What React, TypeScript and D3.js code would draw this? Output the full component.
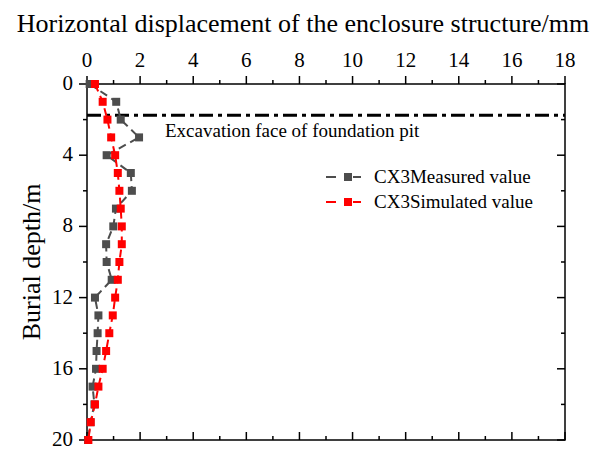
import React from "react";
import * as d3 from "d3";

// Burial depth of each inclinometer reading (m)
const depths: number[] = [0, 1, 2, 3, 4, 5, 6, 7, 8, 9, 10, 11, 12, 13, 14, 15, 16, 17, 18, 19, 20];
// CX3 horizontal displacement, field measurement (mm)
const measured: number[] = [0.1, 1.1, 1.27, 1.96, 0.74, 1.65, 1.69, 1.09, 0.99, 0.72, 0.74, 0.93, 0.3, 0.43, 0.4, 0.36, 0.34, 0.21, 0.28, 0.13, 0.04];
// CX3 horizontal displacement, numerical simulation (mm)
const simulated: number[] = [0.3, 0.59, 0.77, 0.91, 1.06, 1.16, 1.22, 1.27, 1.31, 1.31, 1.22, 1.16, 1.06, 0.97, 0.84, 0.72, 0.59, 0.43, 0.3, 0.14, 0.05];

const xTicks: number[] = [0, 2, 4, 6, 8, 10, 12, 14, 16, 18];
const yTicks: number[] = [0, 4, 8, 12, 16, 20];
const excavationDepth = 1.75;

const seriesNames: string[] = ["CX3Measured value", "CX3Simulated value"];
const seriesColors: string[] = ["#4d4d4d", "#ff0000"];

const W = 598;
const H = 449;
const FONT = "Liberation Serif";

const txt = (size: number): React.CSSProperties => ({ fontFamily: FONT, fontSize: `${size}px` });

export default function App() {
  const x = d3.scaleLinear().domain([0, 18]).range([87, 565]);
  const y = d3.scaleLinear().domain([0, 20]).range([84, 440]);

  const xMinor = d3.range(0, 19, 1).filter((v) => v % 2 !== 0);
  const yMinor = d3.range(0, 21, 2).filter((v) => v % 4 !== 0);

  const line = d3
    .line<[number, number]>()
    .x((d) => x(d[0]))
    .y((d) => y(d[1]));

  const series = [measured, simulated].map((vals, i) => ({
    name: seriesNames[i],
    color: seriesColors[i],
    pts: vals.map((v, j) => [v, depths[j]] as [number, number]),
  }));

  const [x0, x1] = x.range();
  const [y0, y1] = y.range();
  const ms = 8;

  return (
    <svg width={W} height={H} style={{ display: "block", position: "absolute", left: 0, top: 0 }}>
      <rect width={W} height={H} fill="#fff" />

      {/* axis titles */}
      <text x={303} y={32} style={txt(26)} textAnchor="middle">
        Horizontal displacement of the enclosure structure/mm
      </text>
      <text transform={`translate(40, ${(y0 + y1) / 2}) rotate(-90)`} style={txt(26)} textAnchor="middle">
        Burial depth/m
      </text>

      {/* top axis: outward ticks + labels; bottom axis: inward ticks */}
      {xTicks.map((t) => (
        <g key={`xt${t}`}>
          <line x1={x(t)} x2={x(t)} y1={y0} y2={y0 - 8} stroke="#000" strokeWidth={1.5} />
          <line x1={x(t)} x2={x(t)} y1={y1} y2={y1 - 8} stroke="#000" strokeWidth={1.5} />
          <text x={x(t)} y={y0 - 17} style={txt(21)} textAnchor="middle">
            {t}
          </text>
        </g>
      ))}
      {xMinor.map((t) => (
        <g key={`xm${t}`}>
          <line x1={x(t)} x2={x(t)} y1={y0} y2={y0 - 4} stroke="#000" strokeWidth={1.5} />
          <line x1={x(t)} x2={x(t)} y1={y1} y2={y1 - 4} stroke="#000" strokeWidth={1.5} />
        </g>
      ))}

      {/* left axis: outward ticks + labels; right axis: inward ticks */}
      {yTicks.map((t) => (
        <g key={`yt${t}`}>
          <line x1={x0} x2={x0 - 8} y1={y(t)} y2={y(t)} stroke="#000" strokeWidth={1.5} />
          <line x1={x1} x2={x1 - 8} y1={y(t)} y2={y(t)} stroke="#000" strokeWidth={1.5} />
          <text x={73} y={y(t) + 6} style={txt(21)} textAnchor="end">
            {t}
          </text>
        </g>
      ))}
      {yMinor.map((t) => (
        <g key={`ym${t}`}>
          <line x1={x0} x2={x0 - 4} y1={y(t)} y2={y(t)} stroke="#000" strokeWidth={1.5} />
          <line x1={x1} x2={x1 - 4} y1={y(t)} y2={y(t)} stroke="#000" strokeWidth={1.5} />
        </g>
      ))}

      {/* frame */}
      <rect x={x0} y={y0} width={x1 - x0} height={y1 - y0} fill="none" stroke="#000" strokeWidth={1.5} />

      {/* excavation face */}
      <line
        x1={x0}
        x2={x1}
        y1={y(excavationDepth)}
        y2={y(excavationDepth)}
        stroke="#000"
        strokeWidth={3}
        strokeDasharray="14 5 4 5"
      />
      <text x={165} y={137} style={txt(19)}>
        Excavation face of foundation pit
      </text>

      {/* data series */}
      {series.map((s) => (
        <g key={s.name}>
          <path d={line(s.pts) ?? ""} fill="none" stroke={s.color} strokeWidth={2} strokeDasharray="8 5" />
          {s.pts.map((p, j) => (
            <rect key={j} x={x(p[0]) - ms / 2} y={y(p[1]) - ms / 2} width={ms} height={ms} fill={s.color} />
          ))}
        </g>
      ))}

      {/* legend */}
      {series.map((s, i) => {
        const ly = 177 + i * 25;
        return (
          <g key={`lg${i}`}>
            <line x1={326} x2={336} y1={ly} y2={ly} stroke={s.color} strokeWidth={2} />
            <line x1={353} x2={361} y1={ly} y2={ly} stroke={s.color} strokeWidth={2} />
            <rect x={348 - ms / 2} y={ly - ms / 2} width={ms} height={ms} fill={s.color} />
            <text x={374} y={ly + 6} style={txt(19)}>
              {s.name}
            </text>
          </g>
        );
      })}
    </svg>
  );
}
